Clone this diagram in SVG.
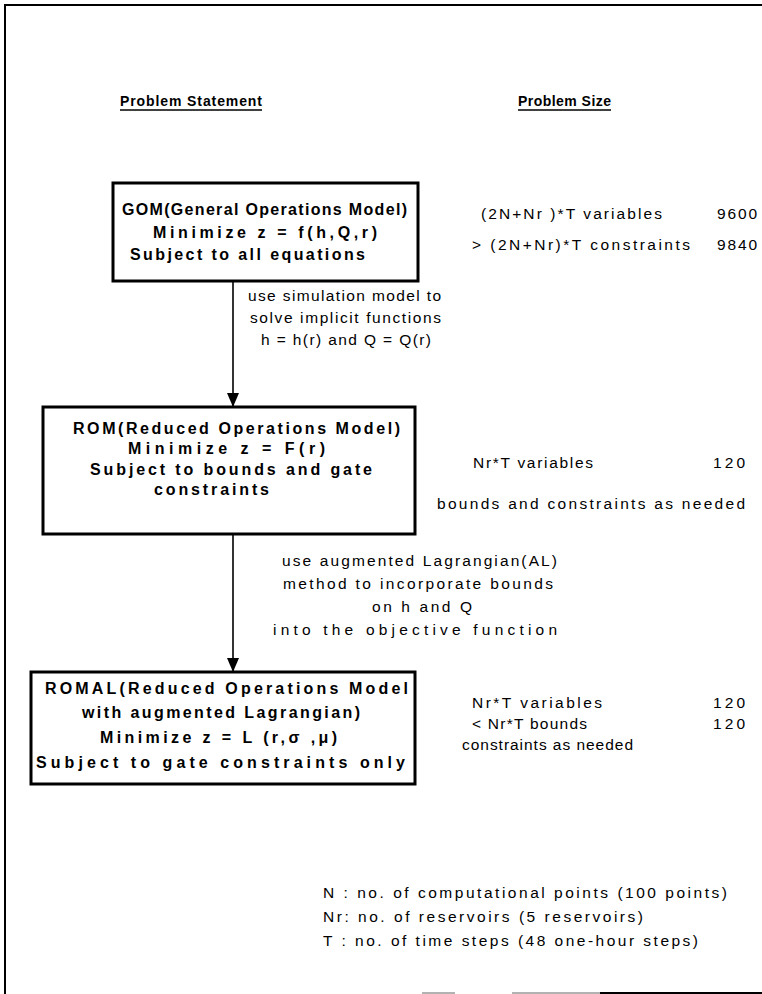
<svg xmlns="http://www.w3.org/2000/svg" width="762" height="994" viewBox="0 0 762 994">
<style>
.box{fill:#fff;stroke:#000;stroke-width:3}
.b{font-family:"Liberation Sans",Arial,sans-serif;font-weight:bold;font-size:16px;fill:#000}
.h{font-family:"Liberation Sans",Arial,sans-serif;font-weight:bold;font-size:14px;fill:#000}
.r{font-family:"Liberation Sans",Arial,sans-serif;font-size:15.5px;fill:#000}
.edge{stroke:#000;stroke-width:1.6;fill:none}
.frame{stroke:#000;stroke-width:2;fill:none}
</style>
<defs>
<marker id="ah" markerWidth="14" markerHeight="12" refX="14" refY="6" orient="auto" markerUnits="userSpaceOnUse" viewBox="0 0 14 12">
<path d="M0,0 L14,6 L0,12 Z" fill="#000"/>
</marker>
</defs>
<rect width="762" height="994" fill="#fff"/>
<g id="frame">
<path class="frame" d="M5,994 L5,5 L762,5"/>
<path d="M422,993 L455,993 M512,993 L600,993" stroke="#999" stroke-width="1.5"/>
<path d="M600,993 L762,993" stroke="#000" stroke-width="2"/>
</g>
<g id="headers">
<text class="h" x="120" y="106" textLength="142" lengthAdjust="spacing">Problem  Statement</text>
<path d="M120,110 L262,110" stroke="#000" stroke-width="1.5"/>
<text class="h" x="518" y="106" textLength="93" lengthAdjust="spacing">Problem  Size</text>
<path d="M518,110 L611,110" stroke="#000" stroke-width="1.5"/>
</g>
<g id="connectors">
<line class="edge" x1="233" y1="281" x2="233" y2="407" marker-end="url(#ah)"/>
<line class="edge" x1="233" y1="534" x2="233" y2="672" marker-end="url(#ah)"/>
<g id="label-sim">
<text class="r" x="248" y="301" textLength="193" lengthAdjust="spacing">use simulation model to</text>
<text class="r" x="250" y="323" textLength="191" lengthAdjust="spacing">solve implicit functions</text>
<text class="r" x="261" y="345" textLength="170" lengthAdjust="spacing">h = h(r) and Q = Q(r)</text>
</g>
<g id="label-al">
<text class="r" x="282" y="566" textLength="275" lengthAdjust="spacing">use augmented Lagrangian(AL)</text>
<text class="r" x="283" y="589" textLength="270" lengthAdjust="spacing">method to incorporate bounds</text>
<text class="r" x="372" y="612" textLength="100" lengthAdjust="spacing">on h and Q</text>
<text class="r" x="273" y="635" textLength="284" lengthAdjust="spacing">into the objective function</text>
</g>
</g>
<g id="gom">
<rect class="box" x="113" y="183" width="305" height="98"/>
<text class="b" x="122" y="215" textLength="285" lengthAdjust="spacing">GOM(General Operations Model)</text>
<text class="b" x="153" y="238" textLength="224" lengthAdjust="spacing">Minimize z = f(h,Q,r)</text>
<text class="b" x="130" y="260" textLength="235" lengthAdjust="spacing">Subject to all equations</text>
</g>
<g id="gom-size">
<text class="r" x="481" y="219" textLength="181" lengthAdjust="spacing">(2N+Nr )*T variables</text>
<text class="r" x="717" y="219" textLength="40" lengthAdjust="spacing">9600</text>
<text class="r" x="472" y="250" textLength="218" lengthAdjust="spacing">&gt; (2N+Nr)*T constraints</text>
<text class="r" x="717" y="250" textLength="40" lengthAdjust="spacing">9840</text>
</g>
<g id="rom">
<rect class="box" x="43" y="407" width="372" height="127"/>
<text class="b" x="73" y="434" textLength="327" lengthAdjust="spacing">ROM(Reduced Operations Model)</text>
<text class="b" x="128" y="454" textLength="197" lengthAdjust="spacing">Minimize z = F(r)</text>
<text class="b" x="90" y="475" textLength="282" lengthAdjust="spacing">Subject to bounds and gate</text>
<text class="b" x="154" y="495" textLength="115" lengthAdjust="spacing">constraints</text>
</g>
<g id="rom-size">
<text class="r" x="473" y="468" textLength="120" lengthAdjust="spacing">Nr*T variables</text>
<text class="r" x="713" y="468" textLength="32" lengthAdjust="spacing">120</text>
<text class="r" x="437" y="509" textLength="308" lengthAdjust="spacing">bounds and constraints as needed</text>
</g>
<g id="romal">
<rect class="box" x="31" y="672" width="384" height="112"/>
<text class="b" x="45" y="694" textLength="363" lengthAdjust="spacing">ROMAL(Reduced Operations Model</text>
<text class="b" x="82" y="718" textLength="278" lengthAdjust="spacing">with augmented Lagrangian)</text>
<text class="b" x="100" y="743" textLength="237" lengthAdjust="spacing">Minimize z = L (r,σ ,μ)</text>
<text class="b" x="36" y="768" textLength="369" lengthAdjust="spacing">Subject to gate constraints only</text>
</g>
<g id="romal-size">
<text class="r" x="472" y="708" textLength="130" lengthAdjust="spacing">Nr*T variables</text>
<text class="r" x="713" y="708" textLength="32" lengthAdjust="spacing">120</text>
<text class="r" x="472" y="729" textLength="115" lengthAdjust="spacing">&lt; Nr*T bounds</text>
<text class="r" x="713" y="729" textLength="32" lengthAdjust="spacing">120</text>
<text class="r" x="462" y="750" textLength="171" lengthAdjust="spacing">constraints as needed</text>
</g>
<g id="legend">
<text class="r" x="323" y="898" textLength="404" lengthAdjust="spacing">N : no. of computational points (100 points)</text>
<text class="r" x="323" y="922" textLength="320" lengthAdjust="spacing">Nr: no. of reservoirs (5 reservoirs)</text>
<text class="r" x="323" y="946" textLength="375" lengthAdjust="spacing">T : no. of time steps (48 one-hour steps)</text>
</g>
</svg>
